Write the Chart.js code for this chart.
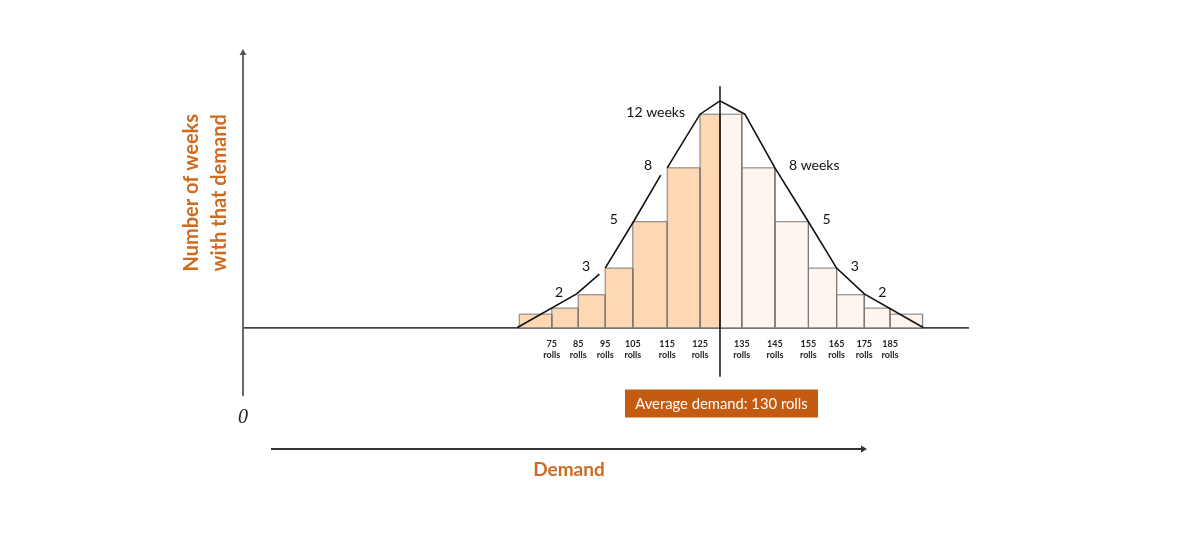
<!DOCTYPE html>
<html lang="en">

<head>
  <meta charset="UTF-8" />
  <title>Weekly demand distribution</title>
  <script src="https://cdn.jsdelivr.net/npm/chart.js"></script>
  <style>
    body { margin: 0; background: #fff; }
  </style>
</head>

<body>
  <canvas id="demandChart" width="1200" height="545"></canvas>

  <script>
    // bin edges along the demand axis (rolls)
    const binEdges = [64.6, 75.2, 83.8, 92.6, 101.6, 112.8, 123.5, 130, 137.1, 147.9, 158.8, 168, 177, 185.4, 196];
    // bar heights (12-week bar = 12)
    const barHeights = [0.75, 1.09, 1.84, 3.34, 5.95, 8.98, 12, 12, 8.98, 5.95, 3.34, 1.84, 1.09, 0.75];
    const weekLabels = ["", "", "2", "3", "5", "8", "12 weeks", "", "8 weeks", "5", "3", "2", "", ""];

    // tick labels under the bars
    const rollLabels = [75, 85, 95, 105, 115, 125, 135, 145, 155, 165, 175, 185];

    // hand drawn outline over the bars (null = break in the line)
    const curveX = [64.0, 83.3, 90.7, 91.6, 92.6, 101.8, 110.7, 111.8, 112.8, 123.5, 130, 138.1, 147.9, 158.8, 168, 177, 196.2];
    const curveY = [0, 1.89, 3.0, null, 3.34, 5.95, 8.57, null, 8.98, 12, 12.75, 12, 8.98, 5.95, 3.34, 1.89, 0];

    const averageDemand = 130;

    const ORANGE = "#D06A1E";

    // one filled outline per bar so every bar keeps its own width
    const datasets = barHeights.map((h, i) => ({
      data: [
        { x: binEdges[i], y: 0 },
        { x: binEdges[i], y: h },
        { x: binEdges[i + 1], y: h },
        { x: binEdges[i + 1], y: 0 }
      ],
      fill: "origin",
      backgroundColor: binEdges[i] < averageDemand ? "#FDD8B3" : "#FEF5EE",
      borderColor: "#7a7a7a",
      borderWidth: 1,
      pointRadius: 0,
      tension: 0,
      order: 3
    }));

    datasets.push({
      data: curveX.map((x, i) => ({ x: x, y: curveY[i] })),
      borderColor: "#111",
      borderWidth: 1.6,
      fill: false,
      pointRadius: 0,
      spanGaps: false,
      order: 1
    });

    datasets.push({
      data: [{ x: averageDemand, y: 13.57 }, { x: averageDemand, y: -2.78 }],
      borderColor: "#111",
      borderWidth: 1.5,
      fill: false,
      pointRadius: 0,
      order: 0
    });

    const tickPositions = binEdges.filter((v, i) => i > 0 && i < binEdges.length - 1 && v !== averageDemand);

    const decorations = {
      id: "decorations",
      afterDraw(chart) {
        const ctx = chart.ctx;
        const area = chart.chartArea;
        ctx.save();

        // arrowhead on the vertical axis
        ctx.fillStyle = "#555";
        ctx.beginPath();
        ctx.moveTo(area.left, area.top - 3);
        ctx.lineTo(area.left - 3.5, area.top + 3);
        ctx.lineTo(area.left + 3.5, area.top + 3);
        ctx.closePath();
        ctx.fill();

        // vertical title, two lines
        ctx.fillStyle = ORANGE;
        ctx.font = "bold 20px Lato";
        ctx.textAlign = "left";
        ctx.textBaseline = "middle";
        [["Number of weeks", 192], ["with that demand", 220]].forEach(([t, x]) => {
          ctx.save();
          ctx.translate(x, 271.5);
          ctx.rotate(-Math.PI / 2);
          ctx.fillText(t, 0, 0);
          ctx.restore();
        });

        // origin mark
        ctx.fillStyle = "#222";
        ctx.font = "italic 20px 'Liberation Serif'";
        ctx.textAlign = "center";
        ctx.fillText("0", area.left, 418);

        // labels next to the bar corners
        ctx.font = "14px Lato";
        ctx.fillStyle = "#111";
        weekLabels.forEach((label, i) => {
          if (!label) return;
          const pts = chart.getDatasetMeta(i).data;
          if (binEdges[i] < averageDemand) {
            ctx.textAlign = "right";
            ctx.fillText(label, pts[1].x - 15, pts[1].y - 2);
          } else {
            ctx.textAlign = "left";
            ctx.fillText(label, pts[2].x + 14, pts[2].y - 2);
          }
        });

        // average demand box
        const cx = chart.scales.x.getPixelForValue(averageDemand);
        ctx.fillStyle = "#C55A11";
        ctx.fillRect(cx - 95, 389.5, 193, 28);
        ctx.fillStyle = "#fff";
        ctx.font = "14.8px Lato";
        ctx.textAlign = "center";
        ctx.fillText("Average demand: " + averageDemand + " rolls", cx + 1.5, 404);

        // demand arrow below
        ctx.strokeStyle = "#333";
        ctx.lineWidth = 2;
        ctx.beginPath();
        ctx.moveTo(271, 449);
        ctx.lineTo(862, 449);
        ctx.stroke();
        ctx.fillStyle = "#333";
        ctx.beginPath();
        ctx.moveTo(867, 449);
        ctx.lineTo(861, 445.5);
        ctx.lineTo(861, 452.5);
        ctx.closePath();
        ctx.fill();

        ctx.fillStyle = ORANGE;
        ctx.font = "bold 19px Lato";
        ctx.fillText("Demand", 569, 470);

        ctx.restore();
      }
    };

    new Chart(document.getElementById("demandChart"), {
      type: "line",
      data: { datasets: datasets },
      options: {
        responsive: false,
        animation: false,
        layout: { padding: { left: 243, right: 232, top: 52, bottom: 150 } },
        plugins: {
          legend: { display: false },
          tooltip: { enabled: false }
        },
        scales: {
          x: {
            type: "linear",
            position: { y: 0 },
            min: -25.4,
            max: 210.8,
            afterBuildTicks: (scale) => {
              scale.ticks = tickPositions.map(v => ({ value: v }));
            },
            ticks: {
              autoSkip: false,
              maxRotation: 0,
              minRotation: 0,
              padding: 11,
              color: "#222",
              font: { family: "Lato", size: 9, weight: "bold", lineHeight: 1.25 },
              callback: (value, index) => [String(rollLabels[index]), "rolls"]
            },
            grid: { color: "transparent", drawTicks: false },
            border: { display: true, color: "#444", width: 1.8 }
          },
          y: {
            min: -3.8,
            max: 15.5,
            ticks: { display: false },
            grid: { color: "transparent", drawTicks: false },
            border: { display: true, color: "#6a6a6a", width: 2 }
          }
        }
      },
      plugins: [decorations]
    });
  </script>
</body>

</html>
